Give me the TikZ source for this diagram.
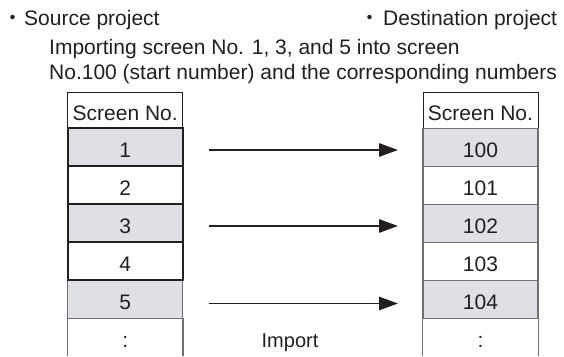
\documentclass[tikz,border=0pt]{standalone}
\usepackage{fontspec}
\setmainfont{Liberation Sans}
\newfontfamily\cjkfont{Noto Sans CJK JP}
\usetikzlibrary{arrows.meta}
\definecolor{ink}{HTML}{231F20}
\definecolor{shade}{HTML}{DEE0E5}
\definecolor{rulegray}{HTML}{6D6E71}
\begin{document}
\begin{tikzpicture}[x=1pt,y=-1pt,
  txt/.style={font=\fontsize{21}{25}\selectfont, text=ink, inner sep=0pt, anchor=base west},
  bullet/.style={font=\cjkfont\fontsize{21}{25}\selectfont, text=ink, inner sep=0pt, anchor=base west},
  cell/.style={rectangle, minimum width=115pt, minimum height=38pt, inner sep=0pt,
    text height=21pt, text depth=0pt, font=\fontsize{21}{25}\selectfont, text=ink},
  hdr/.style={cell, minimum height=36pt, draw=ink, line width=1pt},
  darkcell/.style={cell, draw=ink, line width=1.8pt},
  lightcell/.style={cell, draw=rulegray, line width=1.2pt},
  shaded/.style={fill=shade},
  openline/.style={draw=rulegray, line width=1.2pt},
  arr/.style={draw=ink, line width=1.5pt, -{Triangle[length=19pt,width=13.4pt]}}
]
\useasboundingbox (0,0) rectangle (564,356);

% titles
\node[bullet] (b1) at (2.5,25) {・};
\node[txt] (s1) at (24,25) {Source project};
\node[bullet] (b2) at (359.5,25) {・};
\node[txt] (d1) at (383,25) {Destination project};
\node[txt] (t1) at (49,54) {Importing screen No. 1, 3, and 5 into screen};
\node[txt] (t2) at (49,79) {No.100 (start number) and the corresponding numbers};

% left table
\node[hdr] (lh) at (125.2,110.3) {Screen No.};
\node[lightcell, shaded] (l5) at (125.2,299.3) {5};
\node[darkcell, shaded] (l1) at (125.2,147.3) {1};
\node[darkcell] (l2) at (125.2,185.3) {2};
\node[darkcell, shaded] (l3) at (125.2,223.3) {3};
\node[darkcell] (l4) at (125.2,261.3) {4};
\node[cell, minimum height=37.7pt] (ld) at (125.2,337.15) {:};
\draw[openline] (ld.north west) -- (ld.south west);
\draw[openline] (ld.north east) -- (ld.south east);

% right table
\node[hdr] (rh) at (480.5,110.3) {Screen No.};
\node[lightcell, shaded] (r1) at (480.5,147.3) {100};
\node[lightcell] (r2) at (480.5,185.3) {101};
\node[lightcell, shaded] (r3) at (480.5,223.3) {102};
\node[lightcell] (r4) at (480.5,261.3) {103};
\node[lightcell, shaded] (r5) at (480.5,299.3) {104};
\node[cell, minimum height=37.7pt] (rd) at (480.5,337.15) {:};
\draw[openline] (rd.north west) -- (rd.south west);
\draw[openline] (rd.north east) -- (rd.south east);

% arrows
\draw[arr] ([shift={(25.3pt,-2.7pt)}]l1.east) -- ([shift={(-24.4pt,-2.7pt)}]r1.west);
\draw[arr] ([shift={(25.3pt,-2.7pt)}]l3.east) -- ([shift={(-24.4pt,-2.7pt)}]r3.west);
\draw[arr] ([shift={(25.3pt,-4.2pt)}]l5.east) -- ([shift={(-24.4pt,-4.2pt)}]r5.west);

\node[font=\fontsize{20}{24}\selectfont, text=ink, inner sep=0pt, anchor=base] (imp) at (290,347) {Import};
\end{tikzpicture}
\end{document}
